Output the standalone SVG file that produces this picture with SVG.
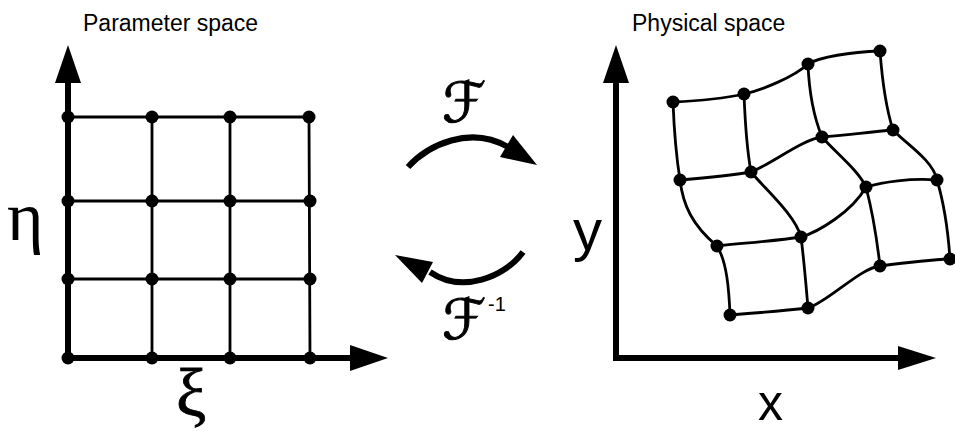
<svg xmlns="http://www.w3.org/2000/svg" width="955" height="431" viewBox="0 0 955 431">
<style>
.title{font-family:"Liberation Sans",Arial,sans-serif;font-size:23px;fill:#000}
.greek{font-family:"Liberation Serif","Times New Roman",serif;fill:#000}
.lat{font-family:"Liberation Sans",Arial,sans-serif;fill:#000}
.scr{font-family:"DejaVu Serif","DejaVu Sans",serif;fill:#000;stroke:#000;stroke-width:0.9}
.axis{stroke:#000;stroke-width:6;fill:none}
.grid{stroke:#000;stroke-width:2.8;fill:none}
.curve{stroke:#000;stroke-width:6;fill:none}
.head{fill:#000}
.node{fill:#000}
</style>
<rect width="955" height="431" fill="#fff"/>
<text class="title" x="83" y="31">Parameter space</text>
<text class="title" x="632" y="31">Physical space</text>

<g id="connectors">
  <!-- left grid lines -->
  <path class="grid" d="M68,117 L309,117 M68,201 L310,201 M68,279 L310,279 M152,117 L152,358 M230,117 L230,358 M309,117 L310,358"/>
  <!-- left axes -->
  <path class="axis" d="M68,361 L68,80 M65,358 L352,358"/>
  <polygon class="head" points="68,45 55,83 81,83"/>
  <polygon class="head" points="388,358 350,345 350,371"/>
  <!-- right axes -->
  <path class="axis" d="M616,361 L616,80 M613,358 L900,358"/>
  <polygon class="head" points="616,45 603,83 629,83"/>
  <polygon class="head" points="936,358 898,346 898,370"/>
  <!-- right curved grid -->
  <path class="grid" d="M673,102 C697,101 722,99 744,94 C762,90 794,77 808,64 C820,57 850,52 880,51"/>
  <path class="grid" d="M680,180 C704,178 728,176 751,172 C770,165 803,139 822,137 C846,135 870,132 893,130"/>
  <path class="grid" d="M717,246 C745,243 775,241 801,237 C818,232 852,212 866,187 C883,182 910,178 937,180"/>
  <path class="grid" d="M730,315 C756,313 782,311 808,308 C828,302 860,268 880,266 C903,263 926,260 950,259"/>
  <path class="grid" d="M673,102 C674,128 676,155 680,180 C683,205 692,225 717,246 C727,262 729,290 730,315"/>
  <path class="grid" d="M744,94 C745,120 747,150 751,172 C766,190 795,215 801,237 C804,260 806,285 808,308"/>
  <path class="grid" d="M808,64 C809,90 813,115 822,137 C836,153 858,170 866,187 C872,210 877,240 880,266"/>
  <path class="grid" d="M880,51 C882,78 886,108 893,130 C905,143 933,160 937,180 C943,200 948,230 950,259"/>
  <!-- mapping arrows -->
  <path class="curve" d="M408,167 C428,145 470,125 508,147"/>
  <polygon class="head" points="537,165 513,135 500,157"/>
  <path class="curve" d="M523,252 C505,277 462,294 430,272"/>
  <polygon class="head" points="395,255 433,262 422,283"/>
</g>

<g id="param-nodes">
  <circle class="node" cx="68" cy="117" r="6.5"/><circle class="node" cx="152" cy="117" r="6.5"/><circle class="node" cx="230" cy="117" r="6.5"/><circle class="node" cx="309" cy="117" r="6.5"/>
  <circle class="node" cx="68" cy="201" r="6.5"/><circle class="node" cx="152" cy="201" r="6.5"/><circle class="node" cx="230" cy="201" r="6.5"/><circle class="node" cx="310" cy="201" r="6.5"/>
  <circle class="node" cx="68" cy="279" r="6.5"/><circle class="node" cx="152" cy="279" r="6.5"/><circle class="node" cx="230" cy="279" r="6.5"/><circle class="node" cx="310" cy="279" r="6.5"/>
  <circle class="node" cx="68" cy="358" r="6.5"/><circle class="node" cx="152" cy="358" r="6.5"/><circle class="node" cx="230" cy="358" r="6.5"/><circle class="node" cx="310" cy="358" r="6.5"/>
</g>

<g id="phys-nodes">
  <circle class="node" cx="673" cy="102" r="6.5"/><circle class="node" cx="744" cy="94" r="6.5"/><circle class="node" cx="808" cy="64" r="6.5"/><circle class="node" cx="880" cy="51" r="6.5"/>
  <circle class="node" cx="680" cy="180" r="6.5"/><circle class="node" cx="751" cy="172" r="6.5"/><circle class="node" cx="822" cy="137" r="6.5"/><circle class="node" cx="893" cy="130" r="6.5"/>
  <circle class="node" cx="717" cy="246" r="6.5"/><circle class="node" cx="801" cy="237" r="6.5"/><circle class="node" cx="866" cy="187" r="6.5"/><circle class="node" cx="937" cy="180" r="6.5"/>
  <circle class="node" cx="730" cy="315" r="6.5"/><circle class="node" cx="808" cy="308" r="6.5"/><circle class="node" cx="880" cy="266" r="6.5"/><circle class="node" cx="950" cy="259" r="6.5"/>
</g>

<g id="labels">
  <text class="greek" x="7" y="240" font-size="70">η</text>
  <text class="greek" x="176" y="416" font-size="68" stroke="#000" stroke-width="0.8">ξ</text>
  <text class="lat" x="573" y="250" font-size="58">y</text>
  <text class="lat" x="758" y="420" font-size="50">x</text>
  <text class="scr" x="442" y="122" font-size="56">ℱ</text>
  <text class="scr" x="442" y="339" font-size="56">ℱ</text>
  <text class="lat" x="488" y="311" font-size="20">-1</text>
</g>
</svg>
